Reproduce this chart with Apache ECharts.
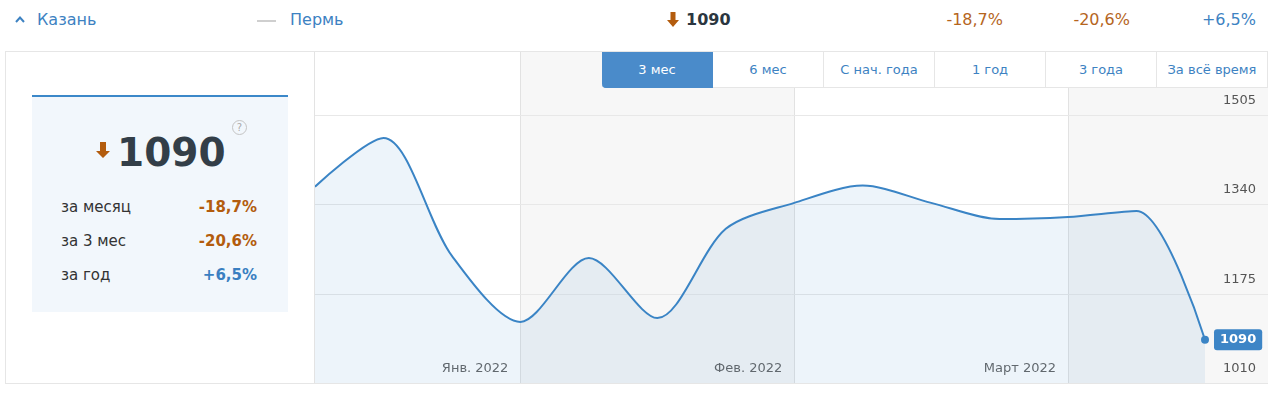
<!DOCTYPE html>
<html><head><meta charset="utf-8">
<script src="https://cdn.jsdelivr.net/npm/echarts@6/dist/echarts.min.js"></script>
<style>
body{margin:0;width:1280px;height:398px;background:#fff;font-family:"DejaVu Sans",Verdana,sans-serif;position:relative;overflow:hidden}
.a{position:absolute;white-space:nowrap}
.top{top:10px;line-height:20px;font-size:16px}
.blue{color:#3d82c2}
.orange{color:#b5651d}
#box{left:5px;top:51px;width:1263px;height:333px;border:1px solid #e6e6e6;box-sizing:border-box}
#chart{left:314px;top:52px;width:953px;height:331px;border-left:1px solid #e3e3e3;box-sizing:content-box}
#card{left:32px;top:95px;width:256px;height:215px;background:#f2f7fc;border-top:2px solid #3b88c9}
.btn{position:absolute;top:52px;height:36px;width:111px;box-sizing:border-box;background:#fff;border-right:1px solid #e6e6e6;border-bottom:1px solid #e6e6e6;color:#3d82c2;font-size:13px;line-height:35px;text-align:center}
.btn.sel{background:#4a8bca;color:#fff;border-color:#4a8bca;border-bottom-left-radius:4px}
.row{position:absolute;left:29px;width:196px;font-size:15px;line-height:20px}
.row .l{color:#333;position:absolute;left:0}
.row .v{position:absolute;right:0;font-weight:bold}
</style></head><body>
<div id="box" class="a"></div>
<div id="chart" class="a"></div>
<div id="btns"></div>

<!-- top row -->
<svg class="a" style="left:15px;top:15px" width="10" height="8"><polyline points="1,7 5,2.5 9,7" fill="none" stroke="#3d82c2" stroke-width="2"/></svg>
<div class="a top blue" style="left:37px">Казань</div>
<div class="a" style="left:257px;top:20px;width:19px;height:2px;background:#cfcfcf"></div>
<div class="a top blue" style="left:290px">Пермь</div>
<svg class="a" style="left:667px;top:12px" width="12" height="15"><path d="M3.5 0H8.5V8H12L6 15L0 8H3.5Z" fill="#b35c0e"/></svg>
<div class="a top" id="topVal" style="left:686px;font-weight:bold;color:#2b3640"></div>
<div class="a top orange" id="t1" style="right:277px"></div>
<div class="a top orange" id="t2" style="right:150px"></div>
<div class="a top blue" id="t3" style="right:24px"></div>

<!-- card -->
<div id="card" class="a">
  <svg class="a" style="left:64px;top:45px" width="14" height="16"><path d="M4 0H10V9H14L7 16L0 9H4Z" fill="#b35c0e"/></svg>
  <div class="a" id="bigVal" style="left:85px;top:36px;font-size:39px;line-height:39px;font-weight:bold;color:#333e48"></div>
  <div class="a" style="left:200px;top:23px;width:13px;height:13px;border:1px solid #c4c4c4;border-radius:50%;color:#aaa;font-size:10px;line-height:13px;text-align:center">?</div>
  <div id="rows"></div>
</div>

<script>
// ---- data ----
const currentValue = 1090;
const changeLabels = ['за месяц', 'за 3 мес', 'за год'];
const changeValues = ['-18,7%', '-20,6%', '+6,5%'];
const rangeButtons = ['3 мес', '6 мес', 'С нач. года', '1 год', '3 года', 'За всё время'];
const monthLabels = ['Янв. 2022', 'Фев. 2022', 'Март 2022'];
const monthStarts = [0, 3, 7, 11];            // week index where each month band begins
const weekValues = [1373, 1463, 1245, 1123, 1241, 1130, 1295, 1343, 1375, 1343, 1313, 1317, 1328, 1090];
const yTicks = [1010, 1175, 1340, 1505];

// ---- html parts ----
document.getElementById('topVal').textContent = currentValue;
document.getElementById('bigVal').textContent = currentValue;
document.getElementById('t1').textContent = changeValues[0];
document.getElementById('t2').textContent = changeValues[1];
document.getElementById('t3').textContent = changeValues[2];
let bh = '';
rangeButtons.forEach((b, i) => {
  bh += '<div class="btn' + (i === 0 ? ' sel' : '') + '" style="left:' + (602 + i * 111) + 'px">' + b + '</div>';
});
document.getElementById('btns').innerHTML = bh;
let rh = '';
changeLabels.forEach((l, i) => {
  const pos = changeValues[i].charAt(0) === '+';
  rh += '<div class="row" style="top:' + (100 + i * 34) + 'px"><span class="l">' + l + '</span><span class="v" style="color:' + (pos ? '#3a7fc1' : '#b35c0e') + '">' + changeValues[i] + '</span></div>';
});
document.getElementById('rows').innerHTML = rh;

// ---- chart ----
const X_MAX = 13.92;
const lineColor = '#3a84c5';
const chart = echarts.init(document.getElementById('chart'));

const areas = [];
for (let i = 0; i < monthLabels.length; i++) {
  areas.push([
    { xAxis: monthStarts[i], itemStyle: { color: i % 2 === 1 ? '#f7f7f7' : 'rgba(0,0,0,0)' },
      label: { show: true, formatter: monthLabels[i] } },
    { xAxis: monthStarts[i + 1] }
  ]);
}
areas.push([{ xAxis: monthStarts[monthStarts.length - 1], itemStyle: { color: '#f7f7f7' }, label: { show: false } }, { xAxis: X_MAX }]);

const lines = [];
monthStarts.slice(1).forEach(m => lines.push({ xAxis: m, label: { show: false }, lineStyle: { color: '#e2e2e2' } }));
yTicks.forEach(v => lines.push({ yAxis: v, name: String(v), lineStyle: { color: v === yTicks[0] ? 'rgba(0,0,0,0)' : '#e8e8e8' } }));

const seriesData = weekValues.map((v, i) =>
  i === weekValues.length - 1 ? { value: [i, v], symbol: 'circle', symbolSize: 8 } : [i, v]);

chart.setOption({
  animation: false,
  textStyle: { fontFamily: 'DejaVu Sans' },
  grid: { left: 0, right: 0, top: 0, bottom: 0 },
  xAxis: { type: 'value', min: 0, max: X_MAX, show: false },
  yAxis: { type: 'value', min: 1010, max: 1622, show: false },
  series: [
    {
      type: 'line', data: [], silent: true, clip: false, z: 1,
      markArea: {
        silent: true, z: 1,
        label: { position: 'insideBottomRight', color: '#666', fontSize: 13, distance: 5, offset: [-7, -3] },
        data: areas
      },
      markLine: {
        silent: true, z: 2, symbol: ['none', 'none'], animation: false,
        lineStyle: { type: 'solid', width: 1 },
        label: { show: true, position: 'insideEndTop', formatter: '{b}', color: '#555', fontSize: 13, distance: [12, 8] },
        emphasis: { disabled: true },
        data: lines
      }
    },
    {
      type: 'line', data: seriesData, smooth: 0.3, symbol: 'none', showSymbol: true, z: 3,
      lineStyle: { color: lineColor, width: 2 },
      itemStyle: { color: lineColor },
      areaStyle: { color: 'rgba(58,132,197,0.13)' },
      endLabel: {
        show: true, distance: 9,
        formatter: p => String(p.value[1]),
        backgroundColor: '#3d85c6', color: '#fff', fontWeight: 'bold', fontSize: 13,
        padding: [4, 6, 4, 6], borderRadius: 3
      }
    }
  ]
});
</script>
</body></html>
